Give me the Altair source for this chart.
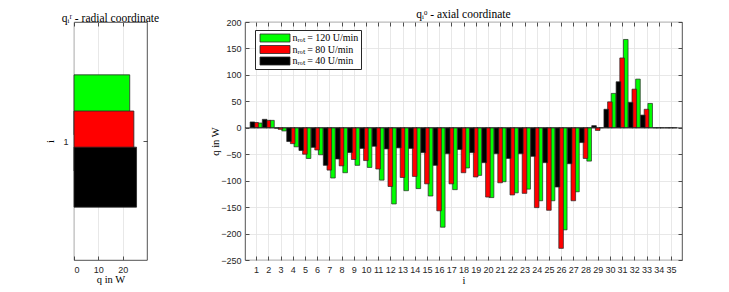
import altair as alt
import pandas as pd

# ---------------- data ----------------
axial_i = list(range(1, 36))
q_axial_120 = [9, 14, -6, -36, -58, -51, -95, -85, -71, -75, -99, -144, -119, -115, -129, -188,
               -117, -76, -90, -132, -102, -123, -116, -138, -138, -193, -121, -63, 0, 65, 167,
               92, 46, 0, 0]
q_axial_80 = [10, 14, -3, -30, -50, -42, -80, -72, -60, -62, -78, -111, -94, -92, -106, -157,
              -106, -85, -93, -131, -104, -127, -124, -151, -156, -228, -138, -58, -5, 49, 132,
              73, 35, 0, 0]
q_axial_40 = [11, 16, -1, -26, -43, -37, -71, -59, -47, -39, -35, -40, -38, -39, -47, -71,
              -49, -41, -47, -66, -49, -58, -49, -54, -66, -112, -68, -28, 4, 35, 87, 48, 24,
              0, 0]
radial_i = [1]
q_radial_120 = [22.9]
q_radial_80 = [24.6]
q_radial_40 = [25.7]

series_labels = ["nᵣₒₜ = 120 U/min", "nᵣₒₜ = 80 U/min", "nᵣₒₜ = 40 U/min"]
series_colors = ["#00ff00", "#ff0000", "#000000"]

axial_rows = []
for k, vals in enumerate([q_axial_120, q_axial_80, q_axial_40]):
    for i, v in zip(axial_i, vals):
        axial_rows.append({"i": i, "q": v, "k": k, "series": series_labels[k]})
df_axial = pd.DataFrame(axial_rows)

radial_rows = []
for k, vals in enumerate([q_radial_120, q_radial_80, q_radial_40]):
    for i, v in zip(radial_i, vals):
        radial_rows.append({"i": i, "q": v, "k": k, "series": series_labels[k]})
df_radial = pd.DataFrame(radial_rows)

# ---------------- style ----------------
AX = "#262626"
GRID = "#e2e2e2"
SERIF = "Liberation Serif"
SANS = "Liberation Sans"

tick_common = dict(labels=False, domain=False, grid=False, ticks=True, tickSize=4,
                   tickColor=AX, tickWidth=0.8, title=None)


def inward_tick_layers(base, xf, yf, xs, ys, xv, yv, W, H):
    # bottom-inward ticks / left-inward ticks
    l2 = base.mark_point(opacity=0).encode(
        x=alt.X(xf, scale=xs, axis=alt.Axis(orient="top", offset=-H, values=xv, **tick_common)),
        y=alt.Y(yf, scale=ys, axis=alt.Axis(orient="right", offset=-W, values=yv, **tick_common)),
    )
    # top-inward ticks / right-inward ticks
    l3 = base.mark_point(opacity=0).encode(
        x=alt.X(xf, scale=xs, axis=alt.Axis(orient="bottom", offset=-H, values=xv, **tick_common)),
        y=alt.Y(yf, scale=ys, axis=alt.Axis(orient="left", offset=-W, values=yv, **tick_common)),
    )
    return l2, l3


# ---------------- left panel (radial) ----------------
WL, HL = 73, 238
xs_L = alt.Scale(domain=[0, 30], nice=False, zero=True)
ys_L = alt.Scale(domain=[0.3, 1.7], nice=False, zero=False)
xv_L = [0, 10, 20]
yv_L = [1]

base_L = alt.Chart(df_radial).transform_calculate(ypos="datum.i + 0.222 * (1 - datum.k)")
bars_L = base_L.mark_bar(orient="horizontal", size=60, stroke=AX, strokeWidth=0.8).encode(
    x=alt.X("q:Q", scale=xs_L, axis=alt.Axis(values=xv_L, title="q in W", ticks=False,
                                             grid=True, labelPadding=5, titlePadding=0)),
    y=alt.Y("ypos:Q", scale=ys_L, axis=alt.Axis(values=yv_L, title="i", ticks=False,
                                                grid=False, labelPadding=6, titlePadding=7)),
    color=alt.Color("series:N", scale=alt.Scale(domain=series_labels, range=series_colors),
                    legend=None),
)
t2L, t3L = inward_tick_layers(base_L, "q:Q", "ypos:Q", xs_L, ys_L, xv_L, yv_L, WL, HL)
left = alt.layer(bars_L, t2L, t3L).resolve_axis(x="independent", y="independent").properties(
    width=WL, height=HL,
    title=alt.TitleParams("qᵢʳ - radial coordinate", frame="group", offset=-2.5),
)

# ---------------- right panel (axial) ----------------
WR, HR = 437, 238
xs_R = alt.Scale(domain=[0.5, 35.5], nice=False, zero=False)
ys_R = alt.Scale(domain=[-250, 200], nice=False)
xv_R = axial_i
yv_R = list(range(-250, 201, 50))

base_R = alt.Chart(df_axial).transform_calculate(xpos="datum.i + 0.3 * (1 - datum.k)")
bars_R = base_R.mark_bar(orient="vertical", size=4.6, stroke=AX, strokeWidth=0.7).encode(
    x=alt.X("xpos:Q", scale=xs_R, axis=alt.Axis(values=xv_R, title="i", ticks=False,
                                                grid=True, labelPadding=5, titlePadding=1)),
    y=alt.Y("q:Q", stack=None, scale=ys_R,
            axis=alt.Axis(values=yv_R, title="q in W", ticks=False, grid=True,
                          labelPadding=4, titlePadding=0)),
    color=alt.Color("series:N", scale=alt.Scale(domain=series_labels, range=series_colors),
                    sort=series_labels,
                    legend=alt.Legend(title=None, orient="none", legendX=10, legendY=8,
                                      direction="vertical",
                                      symbolType="M-3,-0.8H3V0.8H-3Z", symbolSize=100,
                                      symbolOffset=12,
                                      symbolStrokeColor=AX, symbolStrokeWidth=0.8,
                                      symbolOpacity=1,
                                      labelFont=SERIF, labelFontSize=10, labelColor="black",
                                      labelOffset=12, rowPadding=0.5, clipHeight=11,
                                      strokeColor=AX, fillColor="white", padding=2.5)),
    order=alt.Order("k:Q", sort="ascending"),
)
zero_rule = alt.Chart(pd.DataFrame({"z": [0]})).mark_rule(color=AX, strokeWidth=0.8).encode(
    y=alt.Y("z:Q", scale=ys_R, axis=None)
)
t2R, t3R = inward_tick_layers(base_R, "xpos:Q", "q:Q", xs_R, ys_R, xv_R, yv_R, WR, HR)
right = alt.layer(bars_R, zero_rule, t2R, t3R).resolve_axis(
    x="independent", y="independent").properties(
    width=WR, height=HR,
    title=alt.TitleParams("qᵢᵒ - axial coordinate", frame="group", offset=-2.5),
)

chart = alt.hconcat(left, right, spacing=50).resolve_scale(
    color="independent").resolve_legend(color="independent").properties(
    padding={"left": 37, "top": 0, "right": 5, "bottom": 0}
).configure_view(stroke=AX, strokeWidth=0.8).configure_axis(
    labelFont=SANS, labelFontSize=9, labelColor=AX,
    titleFont=SERIF, titleFontSize=10.5, titleFontWeight="normal", titleColor="black",
    gridColor=GRID, gridWidth=0.8, domain=False,
).configure_title(
    font=SERIF, fontSize=11.5, fontWeight="normal", color="black", anchor="middle"
)

chart.save("out.html", embed_options={"renderer": "svg", "actions": False})
